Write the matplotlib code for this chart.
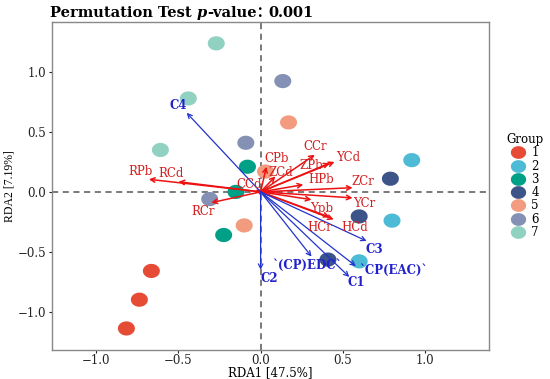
import numpy as np
import matplotlib
matplotlib.use("Agg")
import matplotlib.pyplot as plt
from matplotlib.lines import Line2D

# ---- data ----
groups = ["1", "2", "3", "4", "5", "6", "7"]
group_colors = ["#E64B35", "#4DBBD5", "#00A087", "#3C5488", "#F39B7F", "#8491B4", "#91D1C2"]
pts_x = {
    "1": [-0.665, -0.738, -0.817],
    "2": [0.92, 0.80, 0.60],
    "3": [-0.08, -0.15, -0.225],
    "4": [0.79, 0.60, 0.41],
    "5": [0.17, 0.03, -0.10],
    "6": [0.135, -0.09, -0.31],
    "7": [-0.27, -0.44, -0.61],
}
pts_y = {
    "1": [-0.66, -0.90, -1.14],
    "2": [0.265, -0.24, -0.58],
    "3": [0.21, 0.0, -0.36],
    "4": [0.11, -0.205, -0.565],
    "5": [0.58, 0.17, -0.28],
    "6": [0.925, 0.41, -0.06],
    "7": [1.24, 0.78, 0.35],
}

env_names = ["RPb", "RCd", "RCr", "CPb", "ZCd", "CCd", "CCr", "ZPb", "YCd", "HPb", "ZCr", "YCr", "Ypb", "HCr", "HCd"]
env_x = [-0.68, -0.50, -0.30, 0.035, 0.09, -0.03, 0.33, 0.42, 0.45, 0.26, 0.56, 0.56, 0.31, 0.42, 0.445]
env_y = [0.105, 0.085, -0.09, 0.21, 0.13, 0.02, 0.31, 0.24, 0.25, 0.06, 0.035, -0.05, -0.065, -0.21, -0.23]
env_lx = [-0.73, -0.545, -0.35, 0.10, 0.12, -0.07, 0.33, 0.31, 0.53, 0.37, 0.62, 0.63, 0.37, 0.36, 0.57]
env_ly = [0.17, 0.15, -0.16, 0.28, 0.165, 0.06, 0.38, 0.22, 0.285, 0.10, 0.09, -0.095, -0.14, -0.30, -0.30]

sp_names = ["C4", "C2", "`(CP)EDC`", "C1", "`CP(EAC)`", "C3"]
sp_x = [-0.45, 0.0, 0.31, 0.54, 0.58, 0.645]
sp_y = [0.66, -0.65, -0.54, -0.71, -0.62, -0.41]
sp_lx = [-0.50, 0.055, 0.28, 0.58, 0.81, 0.69]
sp_ly = [0.72, -0.72, -0.61, -0.76, -0.66, -0.48]

title_parts = ["Permutation Test ", "p", "-value\uff1a", "0.001"]
xlabel = "RDA1 [47.5%]"
ylabel = "RDA2 [7.19%]"

# ---- figure ----
plt.rcParams["font.family"] = ["DejaVu Serif"]

fig = plt.figure(figsize=(5.5, 3.79), dpi=100)
ax = fig.add_axes([0.0945, 0.0765, 0.7945, 0.866])
ax.set_xlim(-1.27, 1.39)
ax.set_ylim(-1.32, 1.42)

ax.axhline(0, color="#555555", ls=(0, (4, 3)), lw=1.1, zorder=1)
ax.axvline(0, color="#555555", ls=(0, (4, 3)), lw=1.1, zorder=1)

# ellipse marker
t = np.linspace(0, 2 * np.pi, 60)
ell = np.column_stack([1.2 * np.cos(t), np.sin(t)])

for g, c in zip(groups, group_colors):
    ax.scatter(pts_x[g], pts_y[g], s=150, marker=ell, color=c, edgecolors="none", zorder=2)

for n, x, y, lx, ly in zip(env_names, env_x, env_y, env_lx, env_ly):
    ax.annotate("", xy=(x, y), xytext=(0, 0),
                arrowprops=dict(arrowstyle="->", color="#EE1111", lw=1.1, shrinkA=0, shrinkB=0,
                                mutation_scale=8), zorder=3)
    ax.text(lx, ly, n, color="#D42020", fontsize=8.5, ha="center", va="center", zorder=4)

for n, x, y, lx, ly in zip(sp_names, sp_x, sp_y, sp_lx, sp_ly):
    ax.annotate("", xy=(x, y), xytext=(0, 0),
                arrowprops=dict(arrowstyle="->", color="#2233CC", lw=0.9, shrinkA=0, shrinkB=0,
                                mutation_scale=8), zorder=3)
    ax.text(lx, ly, n, color="#2222CC", fontsize=8.5, fontweight="bold", ha="center", va="center", zorder=4)

for s in ax.spines.values():
    s.set_color("#888888")
    s.set_linewidth(1.0)

ax.set_xticks([-1.0, -0.5, 0.0, 0.5, 1.0])
ax.set_yticks([-1.0, -0.5, 0.0, 0.5, 1.0])
ax.tick_params(labelsize=8.5, colors="#222222", length=2.5, width=0.8)
ax.tick_params(axis="x", pad=0.5)
ax.tick_params(axis="y", pad=1.5)
for tl in ax.get_xticklabels() + ax.get_yticklabels():
    tl.set_color("#222222")
ax.set_xlabel(xlabel, fontsize=8.5, labelpad=-1)
ax.set_ylabel(ylabel, fontsize=8.5, labelpad=2, family=["Liberation Serif"])

# title with italic p
ty = 0.967
fs = 10.5
fig.canvas.draw()
r = fig.canvas.get_renderer()
xpos = 0.091
for i, part in enumerate(title_parts[:3]):
    tt = fig.text(xpos, ty, part, fontsize=fs, fontweight="bold",
                  style="italic" if i == 1 else "normal", ha="left", va="center",
                  family=["DejaVu Serif", "Noto Sans CJK SC"])
    xpos = tt.get_window_extent(r).x1 / fig.bbox.width
fig.text(0.488, ty, title_parts[3], fontsize=fs, fontweight="bold", ha="left", va="center")

handles = [Line2D([0], [0], marker=ell, color="none", markerfacecolor=c, markeredgecolor="none",
                  markersize=11) for c in group_colors]
leg = fig.legend(handles, groups, title="Group", loc="upper left", bbox_to_anchor=(0.91, 0.664),
                 frameon=False, fontsize=8.5, title_fontsize=8.5, handlelength=1.2,
                 handletextpad=0.5, labelspacing=0.02, borderpad=0)

fig.savefig("out.png", dpi=100)
